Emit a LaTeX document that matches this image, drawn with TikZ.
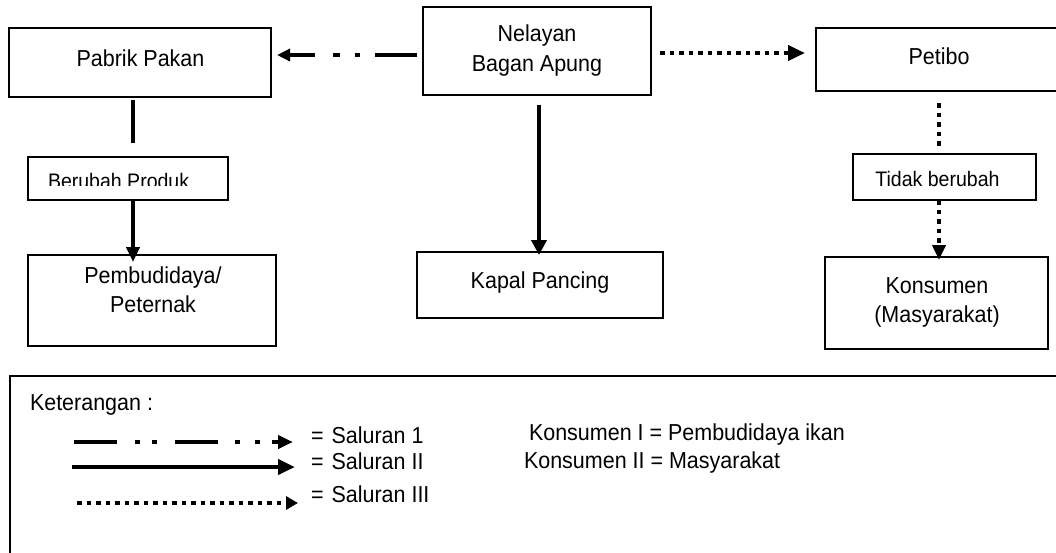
\documentclass[tikz,border=0pt]{standalone}
\usepackage{fontspec}
\setmainfont[FakeStretch=0.93]{Liberation Sans}
\usetikzlibrary{arrows.meta}
\begin{document}
\begin{tikzpicture}[x=1pt,y=-1pt,
  box/.style={draw, line width=1.6pt, rectangle, inner sep=0pt, outer sep=0pt},
  lbl/.style={inner sep=0pt, outer sep=0pt, anchor=base, font=\fontsize{23.1pt}{30pt}\selectfont},
  lbls/.style={lbl, font=\fontsize{21pt}{24pt}\selectfont},
  solidln/.style={line width=4.5pt},
  dotln/.style={line width=4.5pt, dash pattern=on 4.5pt off 5pt},
  salmain/.style={line width=4.5pt, dash pattern=on 42pt off 15pt on 5pt off 15pt on 7pt off 18pt on 60pt},
  salleg/.style={line width=4.5pt, dash pattern=on 43pt off 18pt on 5pt off 12pt on 5pt off 18pt on 43pt off 17pt on 5pt off 15pt on 5pt off 12pt on 40pt},
]
\useasboundingbox (0,0) rectangle (1056,552);
\clip (0,0) rectangle (1056,552);
\fill[white] (0,0) rectangle (1056,552);

% boxes
\node[box, minimum width=262pt, minimum height=69pt] (pab) at (140,62.5) {};
\node[box, minimum width=228pt, minimum height=88pt] (nel) at (537,51) {};
\node[box, minimum width=246pt, minimum height=63pt] (pet) at (939,59.5) {};
\node[box, minimum width=200pt, minimum height=43pt] (ber) at (128,178.5) {};
\node[box, minimum width=183pt, minimum height=46pt] (tid) at (944.5,177) {};
\node[box, minimum width=248pt, minimum height=91pt] (pem) at (152,300.5) {};
\node[box, minimum width=246pt, minimum height=66pt] (kap) at (540,285) {};
\node[box, minimum width=223pt, minimum height=92pt] (kon) at (936.5,303) {};
\node[box, minimum width=1052pt, minimum height=184pt, anchor=north west] (leg) at (10,376) {};

% texts
\node[lbl] (tpab) at (140.5,66.5) {Pabrik Pakan};
\node[lbl] (tnel1) at (537,41.5) {Nelayan};
\node[lbl] (tnel2) at (537,71) {Bagan Apung};
\node[lbl] (tpet) at (939,64) {Petibo};
\begin{scope}
  \clip (29,158) rectangle (227,185);
  \node[lbls, anchor=base west] (tber) at (48,188) {Berubah Produk};
\end{scope}
\node[lbls] (ttid) at (937.5,186.5) {Tidak berubah};
\node[lbl] (tpem1) at (153,283) {Pembudidaya/};
\node[lbl] (tpem2) at (153,312) {Peternak};
\node[lbl] (tkap) at (540,288) {Kapal Pancing};
\node[lbl] (tkon1) at (937,293) {Konsumen};
\node[lbl] (tkon2) at (937,322) {(Masyarakat)};
\node[lbl, anchor=base west] (tket) at (30,410) {Keterangan :};
\node[lbl, anchor=base west] (ts1) at (311,443) {=\hspace{8pt}Saluran 1};
\node[lbl, anchor=base west] (ts2) at (311,469) {=\hspace{8pt}Saluran II};
\node[lbl, anchor=base west] (ts3) at (311,502) {=\hspace{8pt}Saluran III};
\node[lbl, anchor=base west] (tk1) at (529,440) {Konsumen I = Pembudidaya ikan};
\node[lbl, anchor=base west] (tk2) at (524,468) {Konsumen II = Masyarakat};

% helper coordinates
\coordinate (xL) at (133,0);
\coordinate (xM) at (539,0);
\coordinate (xR) at (939,0);
\coordinate (r1) at (0,55);
\coordinate (r3) at (0,53);

% connectors
\draw[salmain, -{Triangle[length=13pt,width=12pt]}, shorten <=6pt, shorten >=6pt] (nel.west |- r1) -- (pab.east |- r1);
\draw[dotln, -{Triangle[length=17pt,width=15pt]}, shorten <=9pt, shorten >=11pt] (nel.east |- r3) -- (pet.west |- r3);
\draw[solidln, shorten <=3pt, shorten >=14pt] (pab.south -| xL) -- (ber.north -| xL);
\draw[solidln, -{Triangle[length=15pt,width=13pt]}, shorten >=-7pt] (ber.south -| xL) -- (pem.north -| xL);
\draw[solidln, -{Triangle[length=15pt,width=15pt]}, shorten <=10pt, shorten >=-3pt] (nel.south -| xM) -- (kap.north -| xM);
\draw[dotln, shorten <=12pt, shorten >=4pt] (pet.south -| xR) -- (tid.north -| xR);
\draw[dotln, -{Triangle[length=15pt,width=13pt]}, shorten >=-3pt] (tid.south -| xR) -- (kon.north -| xR);

% legend lines
\coordinate (l1a) at (74,442);
\coordinate (l1b) at (293,442);
\coordinate (l2a) at (72,467);
\coordinate (l2b) at (295,467);
\coordinate (l3a) at (77,503);
\coordinate (l3b) at (298,503);
\draw[salleg, -{Triangle[length=15pt,width=13pt]}] (l1a) -- (l1b);
\draw[solidln, -{Triangle[length=17pt,width=15pt]}] (l2a) -- (l2b);
\draw[dotln, -{Triangle[length=12pt,width=13pt]}] (l3a) -- (l3b);
\end{tikzpicture}
\end{document}
